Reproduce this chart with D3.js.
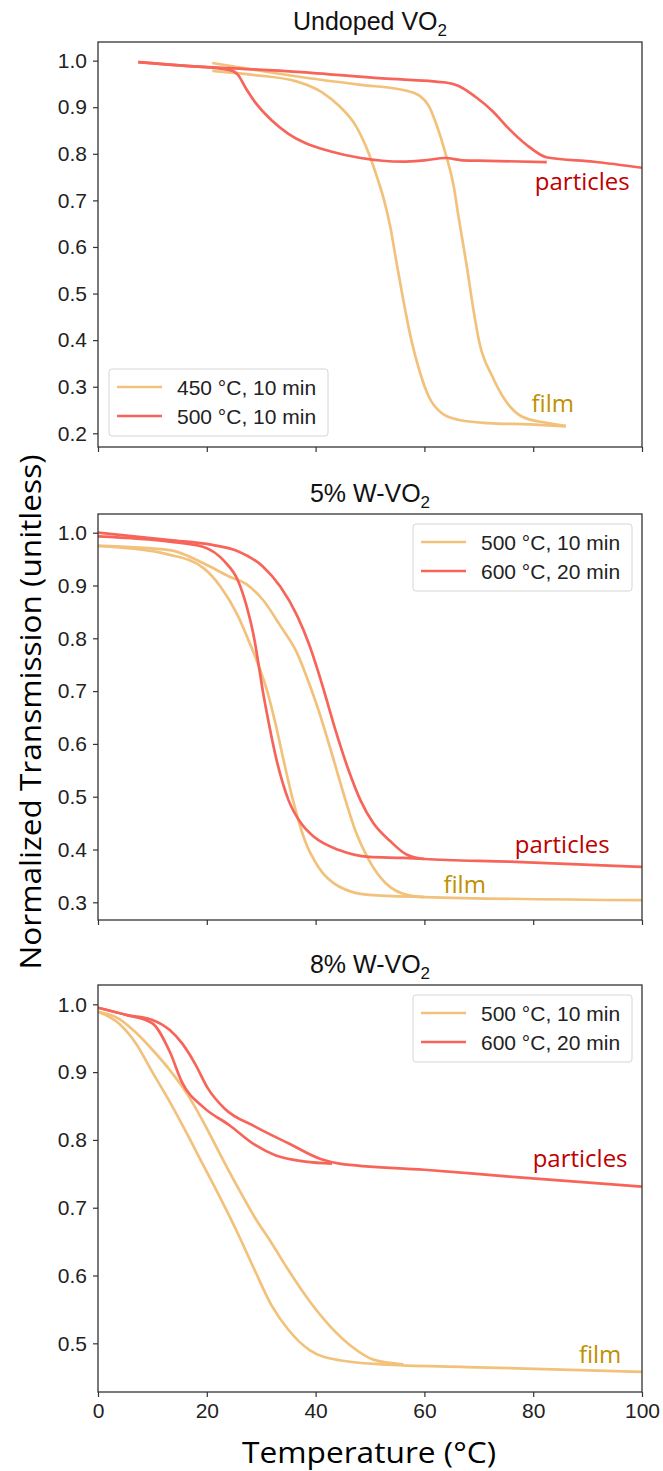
<!DOCTYPE html>
<html>
<head>
<meta charset="utf-8">
<script src="https://cdn.jsdelivr.net/npm/d3@7"></script>
<style>
  body { margin: 0; background: #fff; }
  svg { display: block; }
</style>
</head>
<body>
<script>
const width = 663;
const height = 1471;
const frameLeft = 98;
const frameRight = 642;
const filmColor = "#f2c27c";
const particleColor = "#f7655a";
const tickFont = "'Liberation Sans', Arial, sans-serif";
const noteFont = "'Open Sans', 'Noto Sans', sans-serif";

// shared x ticks (temperature, °C)
const tempTicks = [0, 20, 40, 60, 80, 100];

// panel titles (subscript 2 added when drawn)
const titles = ["Undoped VO", "5% W-VO", "8% W-VO"];

// legend entries: [film, particles]
const legendLabels = [
  ["450 °C, 10 min", "500 °C, 10 min"],
  ["500 °C, 10 min", "600 °C, 20 min"],
  ["500 °C, 10 min", "600 °C, 20 min"]
];

const yTicks = [
  [1.0, 0.9, 0.8, 0.7, 0.6, 0.5, 0.4, 0.3, 0.2],
  [1.0, 0.9, 0.8, 0.7, 0.6, 0.5, 0.4, 0.3],
  [1.0, 0.9, 0.8, 0.7, 0.6, 0.5]
];

// ---- undoped VO2 : [temperature, normalized transmission]
const undopedFilmCool = [[21,0.978],[28.8,0.969],[36.6,0.955],[41.2,0.932],[44.3,0.903],[47.4,0.86],[49.8,0.80],[51.4,0.746],[52.6,0.70],[53.7,0.645],[54.9,0.565],[56.1,0.487],[57.6,0.40],[59.2,0.33],[60.8,0.279],[63.1,0.244],[66.2,0.229],[71.7,0.222],[79.5,0.219],[86,0.215]];
const undopedFilmHeat = [[21,0.995],[28.8,0.98],[36.6,0.966],[48.3,0.948],[56.1,0.937],[59.2,0.924],[60.8,0.903],[62.3,0.86],[63.9,0.80],[65.4,0.73],[66.2,0.67],[67.8,0.558],[69,0.466],[70.1,0.395],[72.5,0.322],[74.8,0.272],[77.9,0.236],[82.6,0.222],[86,0.216]];
const undopedPartCool = [[7.4,0.997],[15,0.99],[24.1,0.98],[25.7,0.97],[27.2,0.94],[28.8,0.912],[31.9,0.872],[35,0.843],[38.1,0.823],[42.8,0.805],[48.3,0.791],[56,0.783],[60,0.786],[63.9,0.791],[67,0.786],[71.7,0.785],[82.5,0.782]];
const undopedPartHeat = [[7.4,0.997],[15,0.99],[24.1,0.984],[36.6,0.976],[52.2,0.962],[63.9,0.953],[66.2,0.946],[69.3,0.923],[72.5,0.892],[75.6,0.853],[78.7,0.82],[82.6,0.792],[91.2,0.783],[100,0.77]];

// ---- 5% W-VO2
const w5FilmCool = [[0,0.975],[13.2,0.958],[19.4,0.933],[22.5,0.898],[25.7,0.843],[28,0.788],[29.6,0.746],[31.1,0.70],[32.7,0.635],[34.2,0.565],[35.8,0.495],[38.1,0.415],[40.5,0.367],[44.3,0.33],[49.8,0.314],[60,0.31],[100,0.304]];
const w5FilmHeat = [[0,0.975],[13.2,0.967],[19.4,0.942],[24.1,0.917],[27.2,0.903],[30.3,0.873],[33.5,0.824],[36.6,0.772],[38.9,0.712],[40.5,0.665],[42.8,0.588],[45.1,0.507],[47.4,0.433],[49.8,0.38],[52.9,0.336],[56.8,0.314],[60,0.31]];
const w5PartCool = [[0,0.993],[13.2,0.983],[19.4,0.973],[23.3,0.945],[25.7,0.91],[27.2,0.865],[28.8,0.795],[29.6,0.745],[30.3,0.70],[31.1,0.655],[32.7,0.575],[35,0.494],[37.3,0.45],[39.7,0.424],[44.3,0.399],[49.8,0.386],[56.1,0.384],[60,0.382]];
const w5PartHeat = [[0,1.0],[13.2,0.986],[21,0.977],[25.7,0.965],[30.3,0.936],[33.5,0.898],[36.6,0.843],[38.9,0.786],[40.5,0.736],[41.7,0.695],[43.6,0.628],[46,0.552],[48.3,0.492],[50.6,0.45],[53.7,0.416],[56.8,0.39],[60,0.382],[75.6,0.377],[100,0.367]];

// ---- 8% W-VO2
const w8FilmCool = [[0,0.989],[3.8,0.972],[7,0.942],[10,0.9],[13.2,0.856],[16.3,0.81],[19.4,0.762],[22.5,0.714],[25.7,0.662],[28.8,0.608],[31.9,0.556],[35,0.52],[38.9,0.49],[44.4,0.475],[52.2,0.469],[67.8,0.465],[100,0.458]];
const w8FilmHeat = [[0,0.989],[3.8,0.979],[7,0.958],[10,0.933],[13.2,0.903],[16.3,0.869],[19.4,0.826],[22.5,0.778],[25.7,0.73],[28.8,0.686],[31.9,0.648],[35,0.608],[38.9,0.562],[42.8,0.524],[46.7,0.495],[50.6,0.476],[56.1,0.469]];
const w8PartCool = [[0,0.995],[5.4,0.984],[10,0.972],[13.2,0.93],[15.5,0.884],[19.4,0.848],[24.1,0.822],[28.8,0.793],[32.7,0.777],[38.1,0.768],[43,0.765]];
const w8PartHeat = [[0,0.995],[5.4,0.984],[10,0.977],[13.2,0.962],[15.5,0.942],[17.8,0.913],[20.2,0.876],[23.3,0.846],[28.8,0.82],[35,0.795],[41.2,0.771],[44.4,0.765],[60,0.756],[75.6,0.746],[100,0.731]];

// label anchors in data units: [T, value]
const noteAnchors = [
  { particles: [80.3, 0.7225], film: [79.7, 0.246] },
  { particles: [76.6, 0.3934], film: [63.5, 0.318] },
  { particles: [79.9, 0.7605], film: [88.4, 0.4714] }
];

const panels = [
  { top: 42, bottom: 447, yDomain: [0.1706, 1.040], legendAt: "lower-left",
    film: [undopedFilmCool, undopedFilmHeat], part: [undopedPartCool, undopedPartHeat] },
  { top: 514, bottom: 920, yDomain: [0.2665, 1.0354], legendAt: "upper-right",
    film: [w5FilmCool, w5FilmHeat], part: [w5PartCool, w5PartHeat] },
  { top: 985, bottom: 1392, yDomain: [0.4282, 1.0285], legendAt: "upper-right",
    film: [w8FilmCool, w8FilmHeat], part: [w8PartCool, w8PartHeat] }
];

const svg = d3.select("body")
  .append("svg")
  .attr("width", width)
  .attr("height", height)
  .style("background", "#fff");

const x = d3.scaleLinear().domain([0, 100]).range([frameLeft, frameRight]);

panels.forEach((p, i) => {
  const y = d3.scaleLinear().domain(p.yDomain).range([p.bottom, p.top]);
  const g = svg.append("g").attr("class", "panel");

  g.append("clipPath")
    .attr("id", `clip${i}`)
    .append("rect")
    .attr("x", frameLeft)
    .attr("y", p.top)
    .attr("width", frameRight - frameLeft)
    .attr("height", p.bottom - p.top);

  const line = d3.line()
    .x(d => x(d[0]))
    .y(d => y(d[1]))
    .curve(d3.curveMonotoneX);

  const plot = g.append("g").attr("clip-path", `url(#clip${i})`);
  plot.selectAll(".film")
    .data(p.film)
    .enter()
    .append("path")
    .attr("class", "film")
    .attr("d", line)
    .attr("fill", "none")
    .attr("stroke", filmColor)
    .attr("stroke-width", 2.7);
  plot.selectAll(".part")
    .data(p.part)
    .enter()
    .append("path")
    .attr("class", "part")
    .attr("d", line)
    .attr("fill", "none")
    .attr("stroke", particleColor)
    .attr("stroke-width", 2.7);

  // axes
  const yAxis = g.append("g")
    .attr("transform", `translate(${frameLeft},0)`)
    .call(d3.axisLeft(y).tickValues(yTicks[i]).tickFormat(d3.format(".1f")).tickSize(5).tickPadding(6));
  const xAxis = g.append("g")
    .attr("transform", `translate(0,${p.bottom})`)
    .call(d3.axisBottom(x).tickValues(tempTicks).tickSize(5).tickPadding(6)
      .tickFormat(i === panels.length - 1 ? d3.format("d") : () => ""));
  [yAxis, xAxis].forEach(a => {
    a.select(".domain").remove();
    a.selectAll(".tick line").attr("stroke", "#333").attr("stroke-width", 1.2);
    a.selectAll(".tick text")
      .style("font-family", tickFont)
      .style("font-size", "21px")
      .attr("fill", "#222");
  });

  g.append("rect")
    .attr("x", frameLeft)
    .attr("y", p.top)
    .attr("width", frameRight - frameLeft)
    .attr("height", p.bottom - p.top)
    .attr("fill", "none")
    .attr("stroke", "#333")
    .attr("stroke-width", 1.3);

  // title with subscript
  const title = g.append("text")
    .attr("x", (frameLeft + frameRight) / 2)
    .attr("y", p.top - 12)
    .attr("text-anchor", "middle")
    .style("font-family", tickFont)
    .style("font-size", "25px")
    .attr("fill", "#111")
    .text(titles[i]);
  title.append("tspan")
    .attr("dy", 6)
    .style("font-size", "17px")
    .text("2");

  // legend
  const lw = 219, lh = 67;
  const lx = p.legendAt === "lower-left" ? frameLeft + 11 : frameRight - 10 - lw;
  const ly = p.legendAt === "lower-left" ? p.bottom - 11 - lh : p.top + 10;
  const legend = g.append("g").attr("transform", `translate(${lx},${ly})`);
  legend.append("rect")
    .attr("width", lw)
    .attr("height", lh)
    .attr("rx", 3)
    .attr("fill", "#fff")
    .attr("fill-opacity", 0.85)
    .attr("stroke", "#d6d6d6");
  const item = legend.selectAll(".legend-item")
    .data([filmColor, particleColor])
    .enter()
    .append("g")
    .attr("class", "legend-item")
    .attr("transform", (d, k) => `translate(0,${18 + k * 29})`);
  item.append("line")
    .attr("x1", 8)
    .attr("x2", 53)
    .attr("stroke", d => d)
    .attr("stroke-width", 2.7);
  item.append("text")
    .attr("x", 68)
    .attr("dy", "0.36em")
    .style("font-family", tickFont)
    .style("font-size", "21px")
    .attr("fill", "#222")
    .text((d, k) => legendLabels[i][k]);

  // curve notes
  const note = noteAnchors[i];
  g.append("text")
    .attr("x", x(note.particles[0]))
    .attr("y", y(note.particles[1]))
    .style("font-family", noteFont)
    .style("font-size", "24px")
    .attr("fill", "#c00000")
    .text("particles");
  g.append("text")
    .attr("x", x(note.film[0]))
    .attr("y", y(note.film[1]))
    .style("font-family", noteFont)
    .style("font-size", "24px")
    .attr("fill", "#bf9000")
    .text("film");
});

// shared axis titles
svg.append("text")
  .attr("transform", "translate(41,712) rotate(-90)")
  .attr("text-anchor", "middle")
  .attr("textLength", 515)
  .attr("lengthAdjust", "spacingAndGlyphs")
  .style("font-family", noteFont)
  .style("font-size", "30px")
  .attr("fill", "#000")
  .text("Normalized Transmission (unitless)");

svg.append("text")
  .attr("x", 369)
  .attr("y", 1463)
  .attr("text-anchor", "middle")
  .attr("textLength", 254)
  .attr("lengthAdjust", "spacingAndGlyphs")
  .style("font-family", noteFont)
  .style("font-size", "29px")
  .attr("fill", "#000")
  .text("Temperature (°C)");
</script>
</body>
</html>
